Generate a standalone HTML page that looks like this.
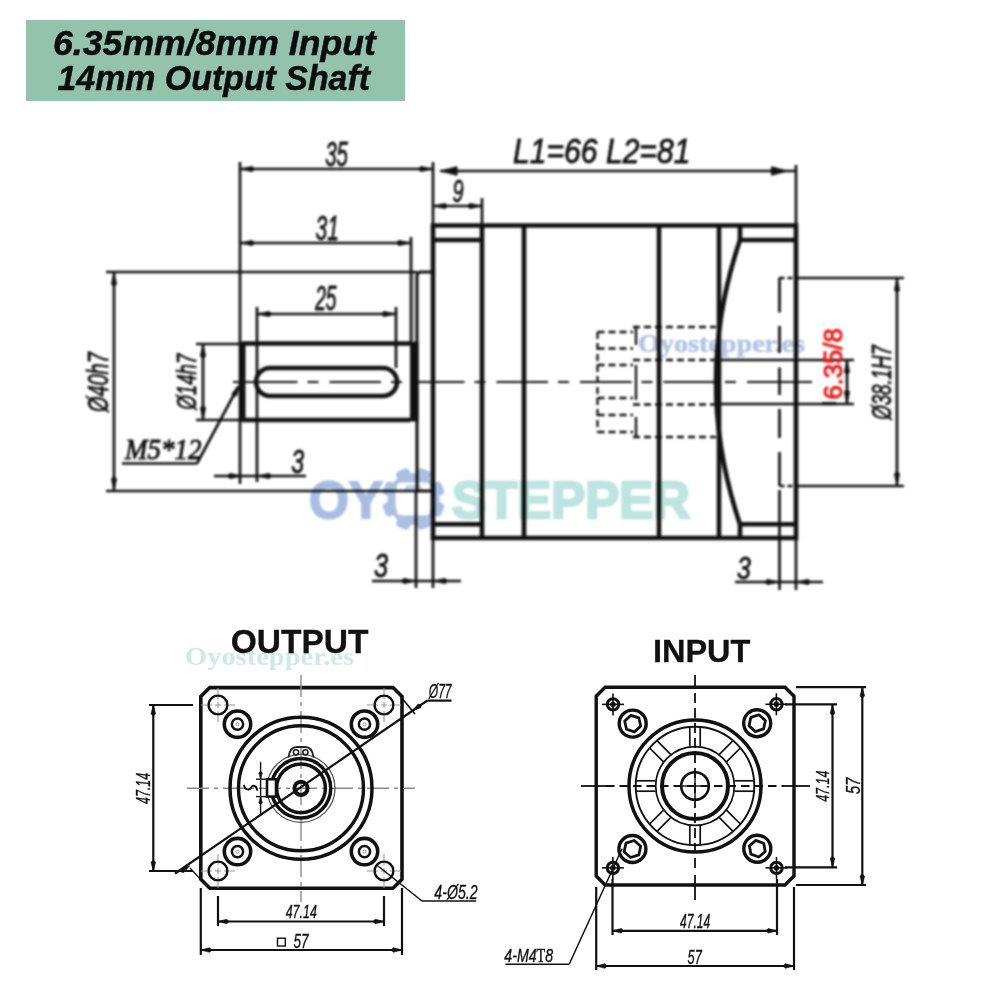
<!DOCTYPE html>
<html><head><meta charset="utf-8"><style>
html,body{margin:0;padding:0;background:#fff;width:1000px;height:1000px;overflow:hidden;}
.L{position:absolute;left:0;top:0;width:1000px;height:1000px;}
.L svg{display:block;}
#side{filter:blur(0.8px);}
</style></head><body>
<div class="L" id="side"><svg width="1000" height="1000" viewBox="0 0 1000 1000">
<path d="M433,225.5 H796 V538 H433 Z" stroke="#111" stroke-width="4.6" fill="none" />
<line x1="482" y1="225.5" x2="482" y2="538" stroke="#111" stroke-width="4.6" />
<line x1="524" y1="225.5" x2="524" y2="538" stroke="#111" stroke-width="4.6" />
<line x1="659" y1="225.5" x2="659" y2="538" stroke="#111" stroke-width="4.6" />
<line x1="719" y1="225.5" x2="719" y2="538" stroke="#111" stroke-width="4.6" />
<line x1="433" y1="240" x2="482" y2="240" stroke="#111" stroke-width="4.6" />
<line x1="433" y1="524.3" x2="482" y2="524.3" stroke="#111" stroke-width="4.6" />
<line x1="740" y1="240" x2="796" y2="240" stroke="#111" stroke-width="4.6" />
<line x1="740" y1="524.3" x2="796" y2="524.3" stroke="#111" stroke-width="4.6" />
<line x1="740" y1="225.5" x2="740" y2="240" stroke="#111" stroke-width="4.6" />
<line x1="740" y1="524.3" x2="740" y2="538" stroke="#111" stroke-width="4.6" />
<path d="M740,240 Q692,382 740,524.3" stroke="#111" stroke-width="4.6" fill="none" />
<path d="M433,272 H421 Q417,272 417,276 V491 H433" stroke="#111" stroke-width="3.1" fill="none" />
<line x1="242" y1="343.5" x2="410" y2="343.5" stroke="#111" stroke-width="4.6" />
<line x1="242" y1="420" x2="410" y2="420" stroke="#111" stroke-width="4.6" />
<rect x="240" y="342" width="5.5" height="79.5" fill="#111"/>
<rect x="410" y="341.5" width="8.5" height="80" fill="#111"/>
<line x1="257" y1="307" x2="257" y2="482" stroke="#111" stroke-width="2.7" />
<rect x="256" y="368" width="141" height="28" rx="14" ry="14" stroke="#111" stroke-width="4.6" fill="none"/>
<line x1="240" y1="162" x2="240" y2="484" stroke="#111" stroke-width="2.7" />
<line x1="433" y1="162" x2="433" y2="225" stroke="#111" stroke-width="2.7" />
<line x1="482" y1="198" x2="482" y2="225" stroke="#111" stroke-width="2.7" />
<line x1="796" y1="165" x2="796" y2="225" stroke="#111" stroke-width="2.7" />
<line x1="411" y1="237" x2="411" y2="343" stroke="#111" stroke-width="2.7" />
<line x1="413" y1="273" x2="413" y2="342" stroke="#9a9a9a" stroke-width="2.2" />
<line x1="240" y1="169" x2="433" y2="169" stroke="#111" stroke-width="2.7" />
<path d="M240.00,169.00 L252.00,166.30 L255.00,169.00 L252.00,171.70 Z" fill="#111" stroke="#111" stroke-width="0.6" stroke-linejoin="round"/>
<path d="M433.00,169.00 L421.00,171.70 L418.00,169.00 L421.00,166.30 Z" fill="#111" stroke="#111" stroke-width="0.6" stroke-linejoin="round"/>
<text x="325.2" y="166.4" font-family="Liberation Sans" font-size="34.68" font-style="italic" font-weight="normal" fill="#111" stroke="#111" stroke-width="0.8" textLength="22.83" lengthAdjust="spacingAndGlyphs">35</text>
<line x1="440" y1="171" x2="796" y2="171" stroke="#111" stroke-width="2.7" />
<path d="M440.00,171.00 L456.98,166.50 L457.50,171.00 L456.98,175.50 Z" fill="#111" stroke="#111" stroke-width="0.6" stroke-linejoin="round"/>
<path d="M788.00,171.00 L771.51,175.40 L771.00,171.00 L771.51,166.60 Z" fill="#111" stroke="#111" stroke-width="0.6" stroke-linejoin="round"/>
<text x="513.1" y="162.8" font-family="Liberation Sans" font-size="35.73" font-style="italic" font-weight="normal" fill="#111" stroke="#111" stroke-width="0.8" textLength="177.28" lengthAdjust="spacingAndGlyphs">L1=66 L2=81</text>
<line x1="433" y1="206" x2="482" y2="206" stroke="#111" stroke-width="2.7" />
<path d="M433.00,206.00 L445.00,203.30 L448.00,206.00 L445.00,208.70 Z" fill="#111" stroke="#111" stroke-width="0.6" stroke-linejoin="round"/>
<path d="M482.00,206.00 L470.00,208.70 L467.00,206.00 L470.00,203.30 Z" fill="#111" stroke="#111" stroke-width="0.6" stroke-linejoin="round"/>
<text x="452.6" y="202.0" font-family="Liberation Sans" font-size="32.28" font-style="italic" font-weight="normal" fill="#111" stroke="#111" stroke-width="0.8" textLength="11.1" lengthAdjust="spacingAndGlyphs">9</text>
<line x1="240" y1="243" x2="411" y2="243" stroke="#111" stroke-width="2.7" />
<path d="M240.00,243.00 L252.00,240.30 L255.00,243.00 L252.00,245.70 Z" fill="#111" stroke="#111" stroke-width="0.6" stroke-linejoin="round"/>
<path d="M411.00,243.00 L399.00,245.70 L396.00,243.00 L399.00,240.30 Z" fill="#111" stroke="#111" stroke-width="0.6" stroke-linejoin="round"/>
<text x="315.4" y="239.9" font-family="Liberation Sans" font-size="34.54" font-style="italic" font-weight="normal" fill="#111" stroke="#111" stroke-width="0.8" textLength="23.47" lengthAdjust="spacingAndGlyphs">31</text>
<line x1="396" y1="307" x2="396" y2="368" stroke="#111" stroke-width="2.7" />
<line x1="257" y1="314" x2="396" y2="314" stroke="#111" stroke-width="2.7" />
<path d="M257.00,314.00 L269.00,311.30 L272.00,314.00 L269.00,316.70 Z" fill="#111" stroke="#111" stroke-width="0.6" stroke-linejoin="round"/>
<path d="M396.00,314.00 L384.00,316.70 L381.00,314.00 L384.00,311.30 Z" fill="#111" stroke="#111" stroke-width="0.6" stroke-linejoin="round"/>
<text x="315.2" y="310.1" font-family="Liberation Sans" font-size="34.54" font-style="italic" font-weight="normal" fill="#111" stroke="#111" stroke-width="0.8" textLength="21.31" lengthAdjust="spacingAndGlyphs">25</text>
<line x1="214" y1="476" x2="306" y2="476" stroke="#111" stroke-width="2.7" />
<path d="M242.00,476.00 L230.00,478.70 L227.00,476.00 L230.00,473.30 Z" fill="#111" stroke="#111" stroke-width="0.6" stroke-linejoin="round"/>
<path d="M257.00,476.00 L269.00,473.30 L272.00,476.00 L269.00,478.70 Z" fill="#111" stroke="#111" stroke-width="0.6" stroke-linejoin="round"/>
<text x="291.2" y="473.2" font-family="Liberation Sans" font-size="34.1" font-style="italic" font-weight="normal" fill="#111" stroke="#111" stroke-width="0.8" textLength="12.9" lengthAdjust="spacingAndGlyphs">3</text>
<line x1="106" y1="272" x2="417" y2="272" stroke="#111" stroke-width="2.7" />
<line x1="106" y1="491" x2="417" y2="491" stroke="#111" stroke-width="2.7" />
<line x1="114" y1="272" x2="114" y2="491" stroke="#111" stroke-width="2.7" />
<path d="M114.00,272.00 L116.70,284.00 L114.00,287.00 L111.30,284.00 Z" fill="#111" stroke="#111" stroke-width="0.6" stroke-linejoin="round"/>
<path d="M114.00,491.00 L111.30,479.00 L114.00,476.00 L116.70,479.00 Z" fill="#111" stroke="#111" stroke-width="0.6" stroke-linejoin="round"/>
<text x="108.0" y="412.1" font-family="Liberation Sans" font-size="28.67" font-style="italic" font-weight="normal" fill="#111" stroke="#111" stroke-width="0.8" transform="rotate(-90 108.0 412.1)" textLength="59.82" lengthAdjust="spacingAndGlyphs">Ø40h7</text>
<line x1="196" y1="344" x2="240" y2="344" stroke="#111" stroke-width="2.7" />
<line x1="196" y1="420" x2="240" y2="420" stroke="#111" stroke-width="2.7" />
<line x1="203" y1="344" x2="203" y2="420" stroke="#111" stroke-width="2.7" />
<path d="M203.00,344.00 L205.70,356.00 L203.00,359.00 L200.30,356.00 Z" fill="#111" stroke="#111" stroke-width="0.6" stroke-linejoin="round"/>
<path d="M203.00,420.00 L200.30,408.00 L203.00,405.00 L205.70,408.00 Z" fill="#111" stroke="#111" stroke-width="0.6" stroke-linejoin="round"/>
<text x="196.2" y="409.7" font-family="Liberation Sans" font-size="27.46" font-style="italic" font-weight="normal" fill="#111" stroke="#111" stroke-width="0.8" transform="rotate(-90 196.2 409.7)" textLength="56.04" lengthAdjust="spacingAndGlyphs">Ø14h7</text>
<line x1="122" y1="463.5" x2="197" y2="463.5" stroke="#111" stroke-width="2.7" />
<line x1="197" y1="463.5" x2="238" y2="387" stroke="#111" stroke-width="2.7" />
<path d="M240.00,384.00 L236.73,395.86 L232.93,397.23 L231.97,393.31 Z" fill="#111" stroke="#111" stroke-width="0.6" stroke-linejoin="round"/>
<text x="125.0" y="458.5" font-family="Liberation Serif" font-size="29.4" font-style="italic" font-weight="normal" fill="#111" stroke="#111" stroke-width="0.9" textLength="76.51" lengthAdjust="spacingAndGlyphs">M5*12</text>
<line x1="416" y1="491" x2="416" y2="588" stroke="#111" stroke-width="2.7" />
<line x1="433" y1="538" x2="433" y2="588" stroke="#111" stroke-width="2.7" />
<line x1="372" y1="581" x2="461" y2="581" stroke="#111" stroke-width="2.7" />
<path d="M416.00,581.00 L404.00,583.70 L401.00,581.00 L404.00,578.30 Z" fill="#111" stroke="#111" stroke-width="0.6" stroke-linejoin="round"/>
<path d="M433.00,581.00 L445.00,578.30 L448.00,581.00 L445.00,583.70 Z" fill="#111" stroke="#111" stroke-width="0.6" stroke-linejoin="round"/>
<text x="374.0" y="577.2" font-family="Liberation Sans" font-size="33.67" font-style="italic" font-weight="normal" fill="#111" stroke="#111" stroke-width="0.8" textLength="14.08" lengthAdjust="spacingAndGlyphs">3</text>
<line x1="779.5" y1="490" x2="779.5" y2="590" stroke="#111" stroke-width="2.7" />
<line x1="796" y1="538" x2="796" y2="590" stroke="#111" stroke-width="2.7" />
<line x1="735" y1="582" x2="823" y2="582" stroke="#111" stroke-width="2.7" />
<path d="M779.50,582.00 L767.50,584.70 L764.50,582.00 L767.50,579.30 Z" fill="#111" stroke="#111" stroke-width="0.6" stroke-linejoin="round"/>
<path d="M796.00,582.00 L808.00,579.30 L811.00,582.00 L808.00,584.70 Z" fill="#111" stroke="#111" stroke-width="0.6" stroke-linejoin="round"/>
<text x="737.1" y="578.8" font-family="Liberation Sans" font-size="31.71" font-style="italic" font-weight="normal" fill="#111" stroke="#111" stroke-width="0.8" textLength="13.77" lengthAdjust="spacingAndGlyphs">3</text>
<line x1="779.5" y1="277.5" x2="779.5" y2="486" stroke="#111" stroke-width="2.7" stroke-dasharray="35 13.5 27 14.5 27.5 14 29 14 40"/>
<line x1="779.5" y1="278" x2="796" y2="278" stroke="#111" stroke-width="2.7" stroke-dasharray="5 3"/>
<line x1="779.5" y1="486" x2="796" y2="486" stroke="#111" stroke-width="2.7" stroke-dasharray="5 3"/>
<line x1="796" y1="278" x2="904" y2="278" stroke="#111" stroke-width="2.7" />
<line x1="796" y1="486" x2="904" y2="486" stroke="#111" stroke-width="2.7" />
<line x1="897" y1="278" x2="897" y2="486" stroke="#111" stroke-width="2.7" />
<path d="M897.00,278.00 L899.70,290.00 L897.00,293.00 L894.30,290.00 Z" fill="#111" stroke="#111" stroke-width="0.6" stroke-linejoin="round"/>
<path d="M897.00,486.00 L894.30,474.00 L897.00,471.00 L899.70,474.00 Z" fill="#111" stroke="#111" stroke-width="0.6" stroke-linejoin="round"/>
<text x="891.0" y="419.8" font-family="Liberation Sans" font-size="27.75" font-style="italic" font-weight="normal" fill="#111" stroke="#111" stroke-width="0.8" transform="rotate(-90 891.0 419.8)" textLength="74.61" lengthAdjust="spacingAndGlyphs">Ø38.1H7</text>
<line x1="719" y1="360" x2="854" y2="360" stroke="#111" stroke-width="2.7" />
<line x1="719" y1="404" x2="854" y2="404" stroke="#111" stroke-width="2.7" />
<line x1="847" y1="360" x2="847" y2="404" stroke="#111" stroke-width="2.7" />
<path d="M847.00,360.00 L849.70,372.00 L847.00,375.00 L844.30,372.00 Z" fill="#111" stroke="#111" stroke-width="0.6" stroke-linejoin="round"/>
<path d="M847.00,404.00 L844.30,392.00 L847.00,389.00 L849.70,392.00 Z" fill="#111" stroke="#111" stroke-width="0.6" stroke-linejoin="round"/>
<line x1="822" y1="403.6" x2="836" y2="403.6" stroke="#111" stroke-width="3.2" />
<text x="842.0" y="399.5" font-family="Liberation Sans" font-size="25.75" font-style="normal" font-weight="normal" fill="#e4201f" stroke="#e4201f" stroke-width="1.1" transform="rotate(-90 842.0 399.5)" textLength="71.17" lengthAdjust="spacingAndGlyphs">6.35/8</text>
<line x1="597.5" y1="332" x2="597.5" y2="432" stroke="#111" stroke-width="2.3" stroke-dasharray="7 4"/>
<line x1="597.5" y1="332" x2="633" y2="332" stroke="#111" stroke-width="2.3" stroke-dasharray="7 4"/>
<line x1="597.5" y1="348.5" x2="633" y2="348.5" stroke="#111" stroke-width="2.3" stroke-dasharray="7 4"/>
<line x1="597.5" y1="365" x2="633" y2="365" stroke="#111" stroke-width="2.3" stroke-dasharray="7 4"/>
<line x1="597.5" y1="398" x2="633" y2="398" stroke="#111" stroke-width="2.3" stroke-dasharray="7 4"/>
<line x1="597.5" y1="415" x2="633" y2="415" stroke="#111" stroke-width="2.3" stroke-dasharray="7 4"/>
<line x1="597.5" y1="432" x2="633" y2="432" stroke="#111" stroke-width="2.3" stroke-dasharray="7 4"/>
<line x1="636" y1="327" x2="636" y2="345" stroke="#111" stroke-width="2.3" />
<line x1="636" y1="365" x2="636" y2="400" stroke="#111" stroke-width="2.3" />
<line x1="636" y1="417" x2="636" y2="437" stroke="#111" stroke-width="2.3" />
<line x1="633" y1="327" x2="716" y2="327" stroke="#111" stroke-width="2.3" stroke-dasharray="7 4"/>
<line x1="633" y1="360" x2="716" y2="360" stroke="#111" stroke-width="2.3" stroke-dasharray="7 4"/>
<line x1="633" y1="404.5" x2="716" y2="404.5" stroke="#111" stroke-width="2.3" stroke-dasharray="7 4"/>
<line x1="633" y1="437" x2="716" y2="437" stroke="#111" stroke-width="2.3" stroke-dasharray="7 4"/>
<line x1="246" y1="382" x2="747" y2="382" stroke="#111" stroke-width="2.0" stroke-dasharray="51.5 10 11 11"/>
<line x1="233" y1="382" x2="246" y2="382" stroke="#111" stroke-width="2.0" />
<line x1="747" y1="382" x2="812" y2="382" stroke="#111" stroke-width="2.0" />
<g style="mix-blend-mode:multiply"><text x="309" y="518" font-family="Liberation Sans" font-weight="bold" font-size="52" fill="#a9bde1" stroke="#a9bde1" stroke-width="2" textLength="74" lengthAdjust="spacingAndGlyphs">OY</text>
<text x="452" y="518" font-family="Liberation Sans" font-weight="bold" font-size="52" fill="#bde4df" stroke="#bde4df" stroke-width="2.5" textLength="238" lengthAdjust="spacingAndGlyphs">STEPPER</text>
<g fill="#aabfe2"><path fill-rule="evenodd" d="M413.5,473 a26,26 0 1 1 -0.01,0 Z M401.5,482.5 h24 a6,6 0 0 1 6,6 v21 a6,6 0 0 1 -6,6 h-24 a6,6 0 0 1 -6,-6 v-21 a6,6 0 0 1 6,-6 Z"/><rect x="406.5" y="467.5" width="14" height="12" rx="4" transform="rotate(22.5 413.5 499)"/><rect x="406.5" y="467.5" width="14" height="12" rx="4" transform="rotate(67.5 413.5 499)"/><rect x="406.5" y="467.5" width="14" height="12" rx="4" transform="rotate(112.5 413.5 499)"/><rect x="406.5" y="467.5" width="14" height="12" rx="4" transform="rotate(157.5 413.5 499)"/><rect x="406.5" y="467.5" width="14" height="12" rx="4" transform="rotate(202.5 413.5 499)"/><rect x="406.5" y="467.5" width="14" height="12" rx="4" transform="rotate(247.5 413.5 499)"/><rect x="406.5" y="467.5" width="14" height="12" rx="4" transform="rotate(292.5 413.5 499)"/><rect x="406.5" y="467.5" width="14" height="12" rx="4" transform="rotate(337.5 413.5 499)"/></g>
<path d="M403.5,491 l3,-6 h14 l3,6 z" fill="#c3d1ea"/>
<text x="638" y="352" font-family="Liberation Serif" font-weight="bold" font-size="26" fill="#b3c4e4" stroke="#b3c4e4" stroke-width="0.6" textLength="167" lengthAdjust="spacingAndGlyphs">Oyostepper.es</text></g>
</svg></div>
<div class="L"><svg width="1000" height="1000" viewBox="0 0 1000 1000">
<rect x="26" y="20" width="379" height="81" fill="#93c2ad"/>
<text x="53.0" y="54.6" font-family="Liberation Sans" font-size="34.5" font-style="italic" font-weight="bold" fill="#0d0d0d" stroke="#0d0d0d" stroke-width="0.5" textLength="323.0" lengthAdjust="spacingAndGlyphs">6.35mm/8mm Input</text>
<text x="57.5" y="90.0" font-family="Liberation Sans" font-size="34.5" font-style="italic" font-weight="bold" fill="#0d0d0d" stroke="#0d0d0d" stroke-width="0.5" textLength="312.5" lengthAdjust="spacingAndGlyphs">14mm Output Shaft</text>
<text x="230.7" y="652.5" font-family="Liberation Sans" font-size="33.4" font-style="normal" font-weight="bold" fill="#111" stroke="#111" stroke-width="0.3" textLength="137.82" lengthAdjust="spacingAndGlyphs">OUTPUT</text>
<path d="M209.8,687.6 H393 L402,696.6 V879.2 L393,888.2 H209.8 L200.8,879.2 V696.6 Z" stroke="#111" stroke-width="3.6" fill="none" />
<line x1="187" y1="788.3" x2="415" y2="788.3" stroke="#8a8a8a" stroke-width="1.4" stroke-dasharray="22 5 4 5"/>
<line x1="301" y1="675" x2="301" y2="902" stroke="#8a8a8a" stroke-width="1.4" stroke-dasharray="22 5 4 5"/>
<circle cx="301" cy="788.3" r="71" stroke="#111" stroke-width="3.5" fill="none" />
<circle cx="301" cy="788.3" r="62.5" stroke="#111" stroke-width="3.4" fill="none" />
<circle cx="301" cy="788.3" r="34" stroke="#555" stroke-width="1.3" fill="none" />
<circle cx="301" cy="788.3" r="29.7" stroke="#111" stroke-width="3.5" fill="none" />
<circle cx="301" cy="788.3" r="24.4" stroke="#111" stroke-width="3.5" fill="none" />
<circle cx="301" cy="788.3" r="6.6" stroke="#111" stroke-width="4.0" fill="none" />
<rect x="267" y="779.2" width="9" height="17.4" fill="#fff" stroke="#111" stroke-width="2.6"/>
<path d="M288.5,757.5 Q289.5,747 297,747 H305 Q312.5,747 313.5,757.5" stroke="#222" stroke-width="1.8" fill="none" />
<circle cx="296" cy="752.3" r="2.6" stroke="#222" stroke-width="1.6" fill="none" />
<circle cx="305.4" cy="752.3" r="2.6" stroke="#222" stroke-width="1.6" fill="none" />
<line x1="256" y1="779.2" x2="267" y2="779.2" stroke="#111" stroke-width="1.4" />
<line x1="256" y1="796.6" x2="267" y2="796.6" stroke="#111" stroke-width="1.4" />
<line x1="260.6" y1="762" x2="260.6" y2="814" stroke="#111" stroke-width="1.4" />
<path d="M260.60,779.20 L258.80,772.80 L260.60,771.20 L262.40,772.80 Z" fill="#111" stroke="#111" stroke-width="0.6" stroke-linejoin="round"/>
<path d="M260.60,796.60 L262.40,803.00 L260.60,804.60 L258.80,803.00 Z" fill="#111" stroke="#111" stroke-width="0.6" stroke-linejoin="round"/>
<path d="M244,784.8 C244.6,790.6 250,790.4 251.2,787.4 C252.6,784.6 256.4,785.4 257.4,790.6" stroke="#111" stroke-width="1.9" fill="none" />
<circle cx="218" cy="705" r="9.4" stroke="#111" stroke-width="2.4" fill="none" />
<line x1="201" y1="705" x2="235" y2="705" stroke="#999" stroke-width="1.1" stroke-dasharray="6 3 2 3"/>
<line x1="218" y1="688" x2="218" y2="722" stroke="#999" stroke-width="1.1" stroke-dasharray="6 3 2 3"/>
<circle cx="384" cy="705" r="9.4" stroke="#111" stroke-width="2.4" fill="none" />
<line x1="367" y1="705" x2="401" y2="705" stroke="#999" stroke-width="1.1" stroke-dasharray="6 3 2 3"/>
<line x1="384" y1="688" x2="384" y2="722" stroke="#999" stroke-width="1.1" stroke-dasharray="6 3 2 3"/>
<circle cx="218" cy="871" r="9.4" stroke="#111" stroke-width="2.4" fill="none" />
<line x1="201" y1="871" x2="235" y2="871" stroke="#999" stroke-width="1.1" stroke-dasharray="6 3 2 3"/>
<line x1="218" y1="854" x2="218" y2="888" stroke="#999" stroke-width="1.1" stroke-dasharray="6 3 2 3"/>
<circle cx="384" cy="871" r="9.4" stroke="#111" stroke-width="2.4" fill="none" />
<line x1="367" y1="871" x2="401" y2="871" stroke="#999" stroke-width="1.1" stroke-dasharray="6 3 2 3"/>
<line x1="384" y1="854" x2="384" y2="888" stroke="#999" stroke-width="1.1" stroke-dasharray="6 3 2 3"/>
<circle cx="237.5" cy="724.2" r="13.2" stroke="#111" stroke-width="3.6" fill="none" />
<circle cx="237.5" cy="724.2" r="5.6" stroke="#111" stroke-width="2.5" fill="none" />
<circle cx="237.5" cy="724.2" r="1.6" stroke="#999" stroke-width="1" fill="none" />
<circle cx="364.5" cy="724.2" r="13.2" stroke="#111" stroke-width="3.6" fill="none" />
<circle cx="364.5" cy="724.2" r="5.6" stroke="#111" stroke-width="2.5" fill="none" />
<circle cx="364.5" cy="724.2" r="1.6" stroke="#999" stroke-width="1" fill="none" />
<circle cx="237.5" cy="851.6" r="13.2" stroke="#111" stroke-width="3.6" fill="none" />
<circle cx="237.5" cy="851.6" r="5.6" stroke="#111" stroke-width="2.5" fill="none" />
<circle cx="237.5" cy="851.6" r="1.6" stroke="#999" stroke-width="1" fill="none" />
<circle cx="364.5" cy="851.6" r="13.2" stroke="#111" stroke-width="3.6" fill="none" />
<circle cx="364.5" cy="851.6" r="5.6" stroke="#111" stroke-width="2.5" fill="none" />
<circle cx="364.5" cy="851.6" r="1.6" stroke="#999" stroke-width="1" fill="none" />
<line x1="175" y1="873.5" x2="427.4" y2="700.5" stroke="#111" stroke-width="2.2" />
<path d="M412.20,710.90 L418.16,704.03 L421.27,704.68 L420.76,707.82 Z" fill="#111" stroke="#111" stroke-width="0.6" stroke-linejoin="round"/>
<path d="M189.80,865.70 L183.84,872.57 L180.73,871.92 L181.24,868.78 Z" fill="#111" stroke="#111" stroke-width="0.6" stroke-linejoin="round"/>
<line x1="427.4" y1="700.6" x2="451.5" y2="700.6" stroke="#111" stroke-width="2.2" />
<text x="428.7" y="697.6" font-family="Liberation Sans" font-size="20.75" font-style="italic" font-weight="normal" fill="#111" stroke="#111" stroke-width="0.35" textLength="22.93" lengthAdjust="spacingAndGlyphs">Ø77</text>
<line x1="401.8" y1="698" x2="415" y2="714" stroke="#111" stroke-width="1.6" />
<line x1="201" y1="880" x2="190" y2="868" stroke="#111" stroke-width="1.3" />
<line x1="378" y1="866" x2="422" y2="901" stroke="#111" stroke-width="1.5" />
<line x1="422" y1="901" x2="476" y2="901" stroke="#111" stroke-width="1.5" />
<text x="434.3" y="899.0" font-family="Liberation Sans" font-size="20.83" font-style="italic" font-weight="normal" fill="#111" stroke="#111" stroke-width="0.35" textLength="43.34" lengthAdjust="spacingAndGlyphs">4-Ø5.2</text>
<line x1="149" y1="705" x2="193" y2="705" stroke="#111" stroke-width="2.2" />
<line x1="149" y1="871" x2="193" y2="871" stroke="#111" stroke-width="2.2" />
<line x1="153.3" y1="705" x2="153.3" y2="871" stroke="#111" stroke-width="2.2" />
<path d="M153.30,705.00 L155.60,713.80 L153.30,716.00 L151.00,713.80 Z" fill="#111" stroke="#111" stroke-width="0.6" stroke-linejoin="round"/>
<path d="M153.30,871.00 L151.00,862.20 L153.30,860.00 L155.60,862.20 Z" fill="#111" stroke="#111" stroke-width="0.6" stroke-linejoin="round"/>
<text x="149.6" y="804.0" font-family="Liberation Sans" font-size="20.39" font-style="italic" font-weight="normal" fill="#111" stroke="#111" stroke-width="0.35" transform="rotate(-90 149.6 804.0)" textLength="31.1" lengthAdjust="spacingAndGlyphs">47.14</text>
<line x1="218" y1="896" x2="218" y2="926" stroke="#111" stroke-width="2.2" />
<line x1="384" y1="896" x2="384" y2="926" stroke="#111" stroke-width="2.2" />
<line x1="218" y1="921.5" x2="384" y2="921.5" stroke="#111" stroke-width="2.2" />
<path d="M218.00,921.50 L226.80,919.20 L229.00,921.50 L226.80,923.80 Z" fill="#111" stroke="#111" stroke-width="0.6" stroke-linejoin="round"/>
<path d="M384.00,921.50 L375.20,923.80 L373.00,921.50 L375.20,919.20 Z" fill="#111" stroke="#111" stroke-width="0.6" stroke-linejoin="round"/>
<text x="285.7" y="918.2" font-family="Liberation Sans" font-size="18.83" font-style="italic" font-weight="normal" fill="#111" stroke="#111" stroke-width="0.35" textLength="31.13" lengthAdjust="spacingAndGlyphs">47.14</text>
<line x1="200.8" y1="888" x2="200.8" y2="955" stroke="#111" stroke-width="2.2" />
<line x1="402" y1="888" x2="402" y2="955" stroke="#111" stroke-width="2.2" />
<line x1="200.8" y1="950" x2="402" y2="950" stroke="#111" stroke-width="2.2" />
<path d="M200.80,950.00 L209.60,947.70 L211.80,950.00 L209.60,952.30 Z" fill="#111" stroke="#111" stroke-width="0.6" stroke-linejoin="round"/>
<path d="M402.00,950.00 L393.20,952.30 L391.00,950.00 L393.20,947.70 Z" fill="#111" stroke="#111" stroke-width="0.6" stroke-linejoin="round"/>
<rect x="277.5" y="938.2" width="7.8" height="7.8" fill="none" stroke="#111" stroke-width="1.4"/>
<text x="293.5" y="948.0" font-family="Liberation Sans" font-size="20.63" font-style="italic" font-weight="normal" fill="#111" stroke="#111" stroke-width="0.35" textLength="15.0" lengthAdjust="spacingAndGlyphs">57</text>
<text x="652.9" y="662.0" font-family="Liberation Sans" font-size="31.54" font-style="normal" font-weight="bold" fill="#111" stroke="#111" stroke-width="0.3" textLength="97.59" lengthAdjust="spacingAndGlyphs">INPUT</text>
<path d="M605.2,687.2 H785 L794,696.2 V876 L785,885 H605.2 L596.2,876 V696.2 Z" stroke="#111" stroke-width="3.4" fill="none" />
<line x1="695" y1="693" x2="695" y2="869" stroke="#111" stroke-width="1.8" stroke-dasharray="10 5"/>
<line x1="695" y1="675" x2="695" y2="689" stroke="#111" stroke-width="1.8" />
<line x1="695" y1="875" x2="695" y2="900" stroke="#111" stroke-width="1.8" />
<line x1="606" y1="786" x2="784" y2="786" stroke="#111" stroke-width="1.8" stroke-dasharray="8.5 5"/>
<line x1="581" y1="786" x2="606" y2="786" stroke="#111" stroke-width="1.8" />
<line x1="784" y1="786" x2="810" y2="786" stroke="#111" stroke-width="1.8" />
<circle cx="695" cy="786" r="66" stroke="#111" stroke-width="3.5" fill="none" />
<circle cx="695" cy="786" r="59.3" stroke="#111" stroke-width="1.9" fill="none" />
<circle cx="695" cy="786" r="39.3" stroke="#111" stroke-width="1.7" fill="none" />
<circle cx="695" cy="786" r="33" stroke="#111" stroke-width="4.0" fill="none" />
<circle cx="695" cy="786" r="13.8" stroke="#111" stroke-width="2.6" fill="none" />
<line x1="681" y1="786" x2="709" y2="786" stroke="#111" stroke-width="1.4" />
<line x1="695" y1="772" x2="695" y2="800" stroke="#111" stroke-width="1.4" />
<line x1="734.3" y1="780.8" x2="754.3" y2="780.8" stroke="#111" stroke-width="1.7" />
<line x1="734.3" y1="791.2" x2="754.3" y2="791.2" stroke="#111" stroke-width="1.7" />
<line x1="726.47" y1="810.11" x2="740.61" y2="824.25" stroke="#111" stroke-width="1.7" />
<line x1="719.11" y1="817.47" x2="733.25" y2="831.61" stroke="#111" stroke-width="1.7" />
<line x1="700.2" y1="825.3" x2="700.2" y2="845.3" stroke="#111" stroke-width="1.7" />
<line x1="689.8" y1="825.3" x2="689.8" y2="845.3" stroke="#111" stroke-width="1.7" />
<line x1="670.89" y1="817.47" x2="656.75" y2="831.61" stroke="#111" stroke-width="1.7" />
<line x1="663.53" y1="810.11" x2="649.39" y2="824.25" stroke="#111" stroke-width="1.7" />
<line x1="655.7" y1="791.2" x2="635.7" y2="791.2" stroke="#111" stroke-width="1.7" />
<line x1="655.7" y1="780.8" x2="635.7" y2="780.8" stroke="#111" stroke-width="1.7" />
<line x1="663.53" y1="761.89" x2="649.39" y2="747.75" stroke="#111" stroke-width="1.7" />
<line x1="670.89" y1="754.53" x2="656.75" y2="740.39" stroke="#111" stroke-width="1.7" />
<line x1="689.8" y1="746.7" x2="689.8" y2="726.7" stroke="#111" stroke-width="1.7" />
<line x1="700.2" y1="746.7" x2="700.2" y2="726.7" stroke="#111" stroke-width="1.7" />
<line x1="719.11" y1="754.53" x2="733.25" y2="740.39" stroke="#111" stroke-width="1.7" />
<line x1="726.47" y1="761.89" x2="740.61" y2="747.75" stroke="#111" stroke-width="1.7" />
<circle cx="613" cy="704.4" r="5.7" stroke="#111" stroke-width="3.0" fill="none" />
<circle cx="613" cy="704.4" r="2.5" stroke="#444" stroke-width="1.0" fill="stroke-dasharray="1.5 1.2"" />
<line x1="602" y1="704.4" x2="624" y2="704.4" stroke="#111" stroke-width="1.6" />
<line x1="613" y1="693.4" x2="613" y2="715.4" stroke="#111" stroke-width="1.6" />
<circle cx="776.4" cy="704.3" r="5.7" stroke="#111" stroke-width="3.0" fill="none" />
<circle cx="776.4" cy="704.3" r="2.5" stroke="#444" stroke-width="1.0" fill="stroke-dasharray="1.5 1.2"" />
<line x1="765.4" y1="704.3" x2="787.4" y2="704.3" stroke="#111" stroke-width="1.6" />
<line x1="776.4" y1="693.3" x2="776.4" y2="715.3" stroke="#111" stroke-width="1.6" />
<circle cx="612.9" cy="867.9" r="5.7" stroke="#111" stroke-width="3.0" fill="none" />
<circle cx="612.9" cy="867.9" r="2.5" stroke="#444" stroke-width="1.0" fill="stroke-dasharray="1.5 1.2"" />
<line x1="601.9" y1="867.9" x2="623.9" y2="867.9" stroke="#111" stroke-width="1.6" />
<line x1="612.9" y1="856.9" x2="612.9" y2="878.9" stroke="#111" stroke-width="1.6" />
<circle cx="776.5" cy="867.9" r="5.7" stroke="#111" stroke-width="3.0" fill="none" />
<circle cx="776.5" cy="867.9" r="2.5" stroke="#444" stroke-width="1.0" fill="stroke-dasharray="1.5 1.2"" />
<line x1="765.5" y1="867.9" x2="787.5" y2="867.9" stroke="#111" stroke-width="1.6" />
<line x1="776.5" y1="856.9" x2="776.5" y2="878.9" stroke="#111" stroke-width="1.6" />
<circle cx="632.7" cy="723.6" r="13.5" stroke="#111" stroke-width="3.4" fill="none" />
<polygon points="640.71,726.13 634.52,731.80 626.51,729.27 624.69,721.07 630.88,715.40 638.89,717.93" fill="none" stroke="#111" stroke-width="2.8" stroke-linejoin="round"/>
<circle cx="757.2" cy="723.2" r="13.5" stroke="#111" stroke-width="3.4" fill="none" />
<polygon points="763.59,728.95 755.41,731.61 749.02,725.86 750.81,717.45 758.99,714.79 765.38,720.54" fill="none" stroke="#111" stroke-width="2.8" stroke-linejoin="round"/>
<circle cx="632.4" cy="849" r="13.5" stroke="#111" stroke-width="3.4" fill="none" />
<polygon points="638.87,854.82 630.59,857.51 624.13,851.69 625.93,843.18 634.21,840.49 640.67,846.31" fill="none" stroke="#111" stroke-width="2.8" stroke-linejoin="round"/>
<circle cx="757.3" cy="848.7" r="13.5" stroke="#111" stroke-width="3.4" fill="none" />
<polygon points="765.19,851.57 758.76,856.97 750.87,854.10 749.41,845.83 755.84,840.43 763.73,843.30" fill="none" stroke="#111" stroke-width="2.8" stroke-linejoin="round"/>
<line x1="785" y1="704.4" x2="837" y2="704.4" stroke="#111" stroke-width="2.2" />
<line x1="785" y1="867.3" x2="837" y2="867.3" stroke="#111" stroke-width="2.2" />
<line x1="832.5" y1="704.4" x2="832.5" y2="867.3" stroke="#111" stroke-width="2.2" />
<path d="M832.50,704.40 L834.80,713.20 L832.50,715.40 L830.20,713.20 Z" fill="#111" stroke="#111" stroke-width="0.6" stroke-linejoin="round"/>
<path d="M832.50,867.30 L830.20,858.50 L832.50,856.30 L834.80,858.50 Z" fill="#111" stroke="#111" stroke-width="0.6" stroke-linejoin="round"/>
<text x="829.4" y="801.8" font-family="Liberation Sans" font-size="18.66" font-style="italic" font-weight="normal" fill="#111" stroke="#111" stroke-width="0.35" transform="rotate(-90 829.4 801.8)" textLength="31.1" lengthAdjust="spacingAndGlyphs">47.14</text>
<line x1="796" y1="687.2" x2="866" y2="687.2" stroke="#111" stroke-width="2.2" />
<line x1="796" y1="885" x2="866" y2="885" stroke="#111" stroke-width="2.2" />
<line x1="862.3" y1="687.2" x2="862.3" y2="885" stroke="#111" stroke-width="2.2" />
<path d="M862.30,687.20 L864.60,696.00 L862.30,698.20 L860.00,696.00 Z" fill="#111" stroke="#111" stroke-width="0.6" stroke-linejoin="round"/>
<path d="M862.30,885.00 L860.00,876.20 L862.30,874.00 L864.60,876.20 Z" fill="#111" stroke="#111" stroke-width="0.6" stroke-linejoin="round"/>
<text x="859.6" y="793.9" font-family="Liberation Sans" font-size="20.76" font-style="italic" font-weight="normal" fill="#111" stroke="#111" stroke-width="0.35" transform="rotate(-90 859.6 793.9)" textLength="16.26" lengthAdjust="spacingAndGlyphs">57</text>
<line x1="612.5" y1="879" x2="612.5" y2="935" stroke="#111" stroke-width="2.2" />
<line x1="777" y1="879" x2="777" y2="935" stroke="#111" stroke-width="2.2" />
<line x1="612.5" y1="930.8" x2="777" y2="930.8" stroke="#111" stroke-width="2.2" />
<path d="M612.50,930.80 L621.30,928.50 L623.50,930.80 L621.30,933.10 Z" fill="#111" stroke="#111" stroke-width="0.6" stroke-linejoin="round"/>
<path d="M777.00,930.80 L768.20,933.10 L766.00,930.80 L768.20,928.50 Z" fill="#111" stroke="#111" stroke-width="0.6" stroke-linejoin="round"/>
<text x="680.0" y="927.6" font-family="Liberation Sans" font-size="19.38" font-style="italic" font-weight="normal" fill="#111" stroke="#111" stroke-width="0.35" textLength="30.23" lengthAdjust="spacingAndGlyphs">47.14</text>
<line x1="596.2" y1="887" x2="596.2" y2="970" stroke="#111" stroke-width="2.2" />
<line x1="794" y1="887" x2="794" y2="970" stroke="#111" stroke-width="2.2" />
<line x1="596.2" y1="966" x2="794" y2="966" stroke="#111" stroke-width="2.2" />
<path d="M596.20,966.00 L605.00,963.70 L607.20,966.00 L605.00,968.30 Z" fill="#111" stroke="#111" stroke-width="0.6" stroke-linejoin="round"/>
<path d="M794.00,966.00 L785.20,968.30 L783.00,966.00 L785.20,963.70 Z" fill="#111" stroke="#111" stroke-width="0.6" stroke-linejoin="round"/>
<text x="687.6" y="963.5" font-family="Liberation Sans" font-size="21.05" font-style="italic" font-weight="normal" fill="#111" stroke="#111" stroke-width="0.35" textLength="14.25" lengthAdjust="spacingAndGlyphs">57</text>
<line x1="622" y1="848.7" x2="569.2" y2="964.2" stroke="#111" stroke-width="1.5" />
<line x1="569.2" y1="964.2" x2="505.4" y2="964.2" stroke="#111" stroke-width="1.5" />
<text x="504.3" y="962.0" font-family="Liberation Sans" font-size="18.66" font-style="italic" font-weight="normal" fill="#111" stroke="#111" stroke-width="0.35" textLength="48.82" lengthAdjust="spacingAndGlyphs">4-M4<tspan font-style="normal" font-family="Liberation Serif">T</tspan>8</text>
<g style="mix-blend-mode:multiply"><text x="185" y="665" font-family="Liberation Serif" font-weight="bold" font-size="26" fill="#cfe9e5" textLength="169" lengthAdjust="spacingAndGlyphs">Oyostepper.es</text></g>
</svg></div>
</body></html>
